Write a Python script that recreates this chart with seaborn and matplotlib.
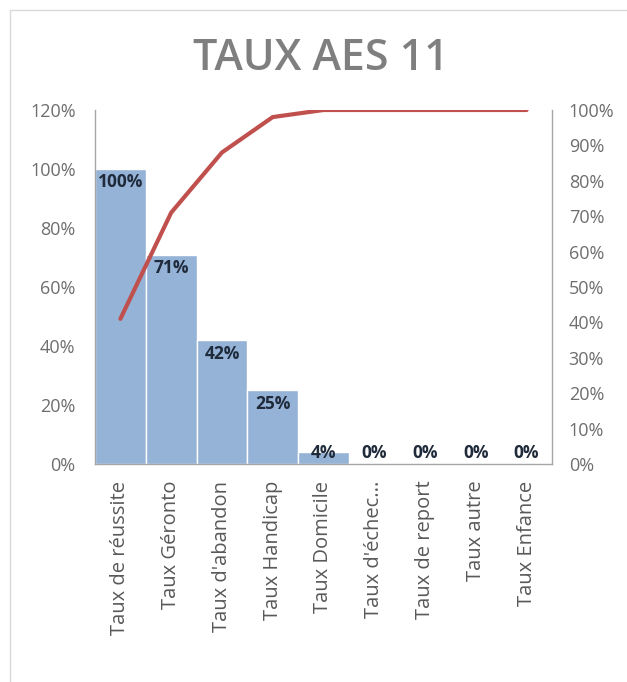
import matplotlib
matplotlib.use("Agg")
import matplotlib.pyplot as plt
import seaborn as sns
import numpy as np
import pandas as pd
from matplotlib.patches import Rectangle
from matplotlib.ticker import PercentFormatter

categories = ["Taux de réussite", "Taux Géronto", "Taux d'abandon", "Taux Handicap",
              "Taux Domicile", "Taux d'échec...", "Taux de report", "Taux autre", "Taux Enfance"]
rates = [100, 71, 42, 25, 4, 0, 0, 0, 0]
cumulative = [41, 71, 88, 98, 100, 100, 100, 100, 100]
bar_labels = ["100%", "71%", "42%", "25%", "4%", "0%", "0%", "0%", "0%"]

sns.set_theme(style="white")
plt.rcParams['font.family'] = ['Open Sans', 'DejaVu Sans']

fig = plt.figure(figsize=(6.27, 6.82), dpi=100)
ax = fig.add_axes([95/627, 1-464/682, (552-95)/627, (464-110)/682])

df = pd.DataFrame({"cat": categories, "rate": rates})
sns.barplot(data=df, x="cat", y="rate", ax=ax, color="#95B3D7", saturation=1,
            width=1.0, edgecolor="white", linewidth=1)
ax.set_ylim(0, 120)
ax.set_xlim(-0.5, len(categories) - 0.5)
ax.set_yticks(np.arange(0, 121, 20))
ax.yaxis.set_major_formatter(PercentFormatter(decimals=0))
ax.set_xlabel("")
ax.set_ylabel("")
ax.tick_params(axis="y", length=0, colors="#6E6E6E", labelsize=13, pad=14)
ax.tick_params(axis="x", length=0, colors="#595959", labelsize=14.5, pad=12)
plt.setp(ax.get_xticklabels(), rotation=90, ha="center", va="top")
for s in ["top", "right"]:
    ax.spines[s].set_visible(False)
for s in ["left", "bottom"]:
    ax.spines[s].set_color("#A6A6A6")
    ax.spines[s].set_linewidth(1)

for i, (v, lab) in enumerate(zip(rates, bar_labels)):
    if v >= 10:
        ax.text(i, v - 1.5, lab, ha="center", va="top", fontsize=12.5,
                fontweight="bold", color="#1F2A3A")
    else:
        ax.text(i, 0.8, lab, ha="center", va="bottom", fontsize=12.5,
                fontweight="bold", color="#1F2A3A")

ax2 = ax.twinx()
sns.lineplot(x=np.arange(len(categories)), y=cumulative, ax=ax2, color="#C0504D",
             linewidth=3)
ax2.set_ylim(0, 100)
ax2.set_yticks(np.arange(0, 101, 10))
ax2.yaxis.set_major_formatter(PercentFormatter(decimals=0))
ax2.tick_params(axis="y", length=0, colors="#6E6E6E", labelsize=13, pad=12)
for s in ["top", "left", "bottom"]:
    ax2.spines[s].set_visible(False)
ax2.spines["right"].set_color("#A6A6A6")
ax2.spines["right"].set_linewidth(1)
ax2.set_xlim(-0.5, len(categories) - 0.5)

fig.text(321/627, 1-58/682, "TAUX AES 11", ha="center", va="center",
         fontsize=31, fontweight="semibold", color="#7F7F7F")

fig.patches.append(Rectangle((10/627, -0.1), 1.1, 1-10/682+0.1, transform=fig.transFigure,
                             fill=False, edgecolor="#D9D9D9", linewidth=1))

fig.savefig("out.png", dpi=100)
